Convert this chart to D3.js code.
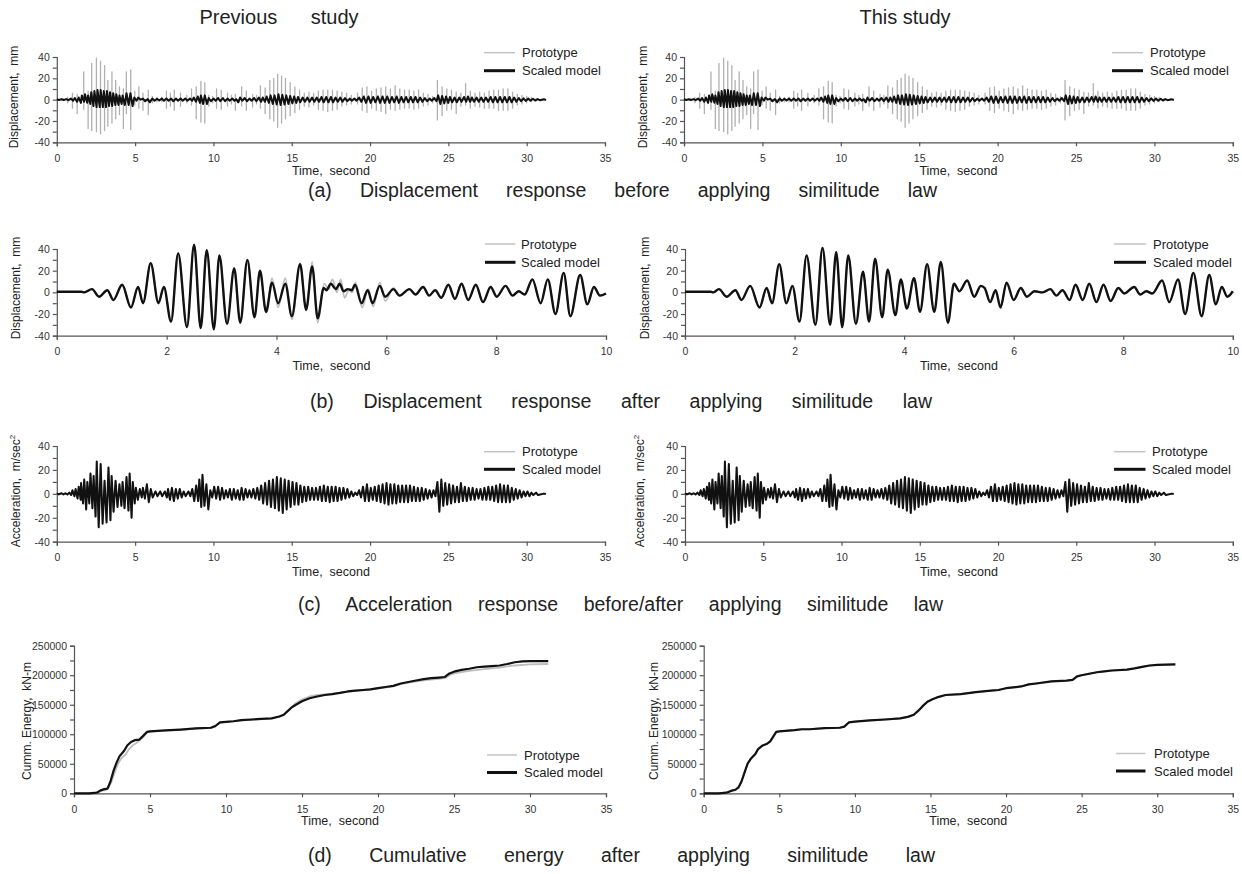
<!DOCTYPE html>
<html><head><meta charset="utf-8">
<script src="https://cdn.jsdelivr.net/npm/d3@7"></script>
<style>
body{margin:0;background:#fff}
svg{display:block}
text{font-family:"Liberation Sans",Arial,sans-serif;fill:#222}
.axis .domain,.axis line{stroke:#555;stroke-width:1.2}
.axis text{font-size:10.5px;fill:#333}
</style>
</head><body>
<svg id="c" width="1242" height="874"></svg>
<script>
// ---------- tick labels / categories ----------
const timeTicksLong = [0,5,10,15,20,25,30,35];
const timeTicksShort = [0,2,4,6,8,10];
const dispTicksMinor = [-40,-30,-20,-10,0,10,20,30,40];
const dispTicksMajor = [-40,-20,0,20,40];
const energyTicksMinor = [0,25000,50000,75000,100000,125000,150000,175000,200000,225000,250000];
const energyTicksMajor = [0,50000,100000,150000,200000,250000];
const seriesNames = ["Prototype","Scaled model"];
const columnTitles = ["Previous study","This study"];
const captions = [
  "(a) Displacement response before applying similitude law",
  "(b) Displacement response after applying similitude law",
  "(c) Acceleration response before/after applying similitude law",
  "(d) Cumulative energy after applying similitude law"
];

// ---------- (a) displacement before similitude: [time, max, min] per cycle ----------
const dispAProto = [
[0.4,1,-1],[0.69,2,-3],[1.0,6,-8],[1.3,5,-13],[1.72,26,-9],[2.0,8,-27],[2.23,34,-29],[2.53,39,-30],[2.79,36,-32],[3.05,32,-29],[3.26,18,-25],[3.52,26,-22],[3.76,18,-18],[4.0,12,-14],[4.25,10,-27],[4.44,26,-13],[4.72,28,-28],[4.98,8,-5],[5.24,12,-8],[5.5,6,-10],[5.84,9,-14],[6.1,3,-3],[6.4,2,-2],[6.7,2,-2],[7.0,8,-8],[7.25,6,-6],[7.5,9,-10],[7.9,6,-6],[8.3,4,-3],[8.6,10,-5],[8.9,12,-18],[9.2,17,-21],[9.45,16,-22],[9.7,4,-6],[9.95,3,-3],[10.2,10,-8],[10.5,9,-9],[10.9,6,-6],[11.15,4,-4],[11.4,5,-10],[11.8,12,-6],[12.1,8,-10],[12.5,5,-7],[12.75,4,-4],[13.0,13,-8],[13.3,11,-13],[13.6,18,-18],[13.85,20,-20],[14.1,24,-26],[14.35,22,-22],[14.6,20,-18],[14.9,16,-15],[15.2,12,-12],[15.5,9,-9],[15.8,6,-6],[16.1,7,-7],[16.4,6,-5],[16.7,8,-9],[17.0,9,-10],[17.3,9,-11],[17.6,9,-10],[17.9,8,-9],[18.2,7,-6],[18.5,6,-5],[18.8,4,-4],[19.2,6,-4],[19.5,11,-10],[19.8,12,-12],[20.1,8,-8],[20.4,10,-10],[20.7,11,-11],[21.0,12,-13],[21.3,10,-9],[21.6,13,-10],[21.9,10,-9],[22.2,9,-8],[22.5,9,-8],[22.8,8,-9],[23.1,9,-8],[23.4,6,-6],[23.7,5,-5],[24.0,3,-3],[24.3,18,-19],[24.6,12,-15],[24.9,10,-10],[25.2,9,-9],[25.5,7,-13],[25.8,6,-6],[26.1,15,-5],[26.4,8,-8],[26.7,6,-6],[27.0,7,-7],[27.3,6,-8],[27.6,8,-8],[27.9,9,-8],[28.2,9,-10],[28.5,10,-10],[28.8,10,-10],[29.1,7,-8],[29.4,5,-5],[29.7,4,-4],[30.0,3,-3],[30.3,2,-2],[30.6,1,-1],[31.0,0.5,-0.5]
];
const dispAModel = [
[0,0.3,-0.3],[0.3,0.3,-0.3],[0.6,0.5,-0.5],[0.9,1,-1],[1.15,1.5,-2],[1.4,2,-3],[1.6,4,-2],[1.8,5,-3],[2.0,4,-4],[2.2,7,-6],[2.4,8,-7],[2.6,9,-7],[2.8,9,-7],[3.0,8,-7],[3.2,8,-6],[3.4,7,-6],[3.6,6,-5],[3.8,5,-5],[4.0,4,-4],[4.2,4,-5],[4.45,6,-5],[4.7,6,-6],[4.95,2,-1],[5.2,2,0],[5.5,1,-1.5],[5.8,0.5,-2.5],[6.1,1,-1],[6.4,0.8,-0.8],[6.7,1,-1],[7.0,1,-1],[7.3,1,-1.5],[7.6,1,-1],[7.9,1,-1],[8.2,1,-1],[8.5,1,-1],[8.75,2,-2],[9.0,3,-3],[9.2,4,-4],[9.45,4,-4],[9.7,1.5,-1.5],[10.0,1,-1],[10.3,1.5,-1.5],[10.6,1.5,-1.5],[10.9,1,-1],[11.2,1,-1],[11.45,0.5,-2.5],[11.7,2,-1],[12.0,1.5,-1.5],[12.3,1,-1],[12.6,1.5,-1.5],[12.9,2,-2],[13.15,2,-2],[13.4,3,-3],[13.65,4,-4],[13.9,4,-4.5],[14.15,5,-5],[14.4,4.5,-4.5],[14.65,4,-4],[14.9,3.5,-3.5],[15.15,3,-3],[15.4,2.5,-2.5],[15.7,2,-2],[16.0,2,-2],[16.3,2,-2],[16.6,2,-2],[16.9,2.5,-2.5],[17.2,2.5,-2.5],[17.5,2.5,-2.5],[17.8,2,-2],[18.1,2,-2],[18.4,1.5,-1.5],[18.7,1,-1],[19.0,1,-1],[19.3,2,-2],[19.6,3,-3],[19.9,3,-3],[20.2,2.5,-2.5],[20.5,3,-3],[20.8,3,-3],[21.1,3,-3],[21.4,2.5,-2.5],[21.7,3,-3],[22.0,2.5,-2.5],[22.3,2.5,-2.5],[22.6,2.5,-2.5],[22.9,2.5,-2.5],[23.2,2,-2],[23.5,1.5,-1.5],[23.8,1,-1],[24.1,1.5,-1.5],[24.35,4,-4],[24.6,3.5,-3.5],[24.85,3,-3],[25.1,2.5,-2.5],[25.4,2,-2.5],[25.7,2,-2],[26.0,2.5,-2],[26.25,3,-2],[26.5,2,-2],[26.8,2,-2],[27.1,2,-2],[27.4,2,-2],[27.7,2.5,-2.5],[28.0,2.5,-2.5],[28.3,2.5,-2.5],[28.6,2.5,-2.5],[28.9,2.5,-2.5],[29.2,2,-2],[29.5,1.5,-1.5],[29.8,1.2,-1.2],[30.1,1,-1],[30.4,0.8,-0.8],[30.7,0.5,-0.5],[31.1,0.3,-0.3]
];

// ---------- (b) displacement after similitude: [time, peak value] ----------
const dispBPrevModel = [
[0,0.5],[0.45,0.5],[0.5,0],[0.64,3],[0.77,-4],[0.92,2],[1.03,-7],[1.19,7],[1.35,-14],[1.48,5],[1.57,-10],[1.71,27],[1.85,-10],[1.95,5],[2.08,-27],[2.21,36],[2.37,-32],[2.5,44],[2.62,-33],[2.73,39],[2.86,-34],[2.96,34],[3.1,-29],[3.23,22],[3.34,-28],[3.47,30],[3.6,-23],[3.7,20],[3.81,-18],[3.92,9],[4.03,-10],[4.16,8],[4.28,-22],[4.43,26],[4.54,-16],[4.65,24],[4.75,-24],[4.86,4],[4.91,2],[4.99,8],[5.08,3],[5.15,8],[5.22,1],[5.3,3],[5.37,2],[5.43,7],[5.55,-10],[5.66,2],[5.75,-10],[5.88,6],[5.98,-4],[6.13,3],[6.24,-3],[6.42,3],[6.53,-2],[6.67,5],[6.78,-3],[6.89,2],[7.0,-5],[7.13,7],[7.25,-6],[7.37,8],[7.49,-7],[7.63,7],[7.76,-9],[7.9,5],[8.01,-4],[8.17,6],[8.3,-3],[8.41,1],[8.52,-2],[8.66,12],[8.81,-10],[8.94,12],[9.08,-20],[9.23,18],[9.35,-22],[9.53,16],[9.66,-11],[9.78,5],[9.89,-3],[10,-1]
];
const dispBPrevProto = [
[0,0.5],[0.45,0.5],[0.5,0],[0.64,3],[0.77,-4],[0.92,2],[1.03,-7],[1.19,7],[1.35,-14],[1.48,5],[1.57,-10],[1.71,27],[1.85,-10],[1.95,5],[2.08,-27],[2.21,36],[2.37,-32],[2.5,44],[2.62,-33],[2.73,39],[2.86,-34],[2.96,34],[3.1,-29],[3.23,22],[3.34,-28],[3.47,30],[3.6,-23],[3.7,20],[3.81,-19],[3.92,13],[4.03,-14],[4.16,13],[4.28,-25],[4.43,27],[4.54,-17],[4.65,28],[4.75,-28],[4.87,8],[4.95,3],[5.02,12],[5.1,0],[5.17,12],[5.24,-5],[5.32,2],[5.38,0],[5.44,9],[5.56,-14],[5.67,3],[5.76,-13],[5.88,9],[5.98,-8],[6.13,4],[6.24,-3],[6.42,3],[6.53,-2],[6.67,5],[6.78,-3],[6.89,2],[7.0,-5],[7.13,7],[7.25,-6],[7.37,8],[7.49,-7],[7.63,7],[7.76,-9],[7.9,5],[8.01,-4],[8.17,6],[8.3,-3],[8.41,1],[8.52,-2],[8.66,12],[8.81,-10],[8.94,12],[9.08,-20],[9.23,18],[9.35,-22],[9.53,16],[9.66,-11],[9.78,5],[9.89,-3],[10,-1]
];
const dispBThis = [
[0,0.5],[0.47,0.5],[0.52,0],[0.62,3],[0.76,-4],[0.92,2],[1.03,-7],[1.19,6],[1.36,-14],[1.49,4],[1.59,-10],[1.72,26],[1.85,-10],[1.96,6],[2.09,-27],[2.22,34],[2.38,-30],[2.51,41],[2.65,-30],[2.76,37],[2.87,-32],[2.98,34],[3.12,-29],[3.25,19],[3.36,-27],[3.47,31],[3.6,-23],[3.7,21],[3.84,-21],[3.94,12],[4.05,-15],[4.18,13],[4.29,-18],[4.42,26],[4.55,-18],[4.67,28],[4.8,-28],[4.91,8],[5.01,1],[5.15,11],[5.28,-4],[5.4,6],[5.47,4],[5.57,-9],[5.67,2],[5.76,-14],[5.87,9],[6.0,-7],[6.13,4],[6.24,-4],[6.38,1],[6.53,0],[6.67,3],[6.78,-3],[6.89,2],[7.02,-7],[7.13,7],[7.26,-7],[7.38,8],[7.51,-9],[7.64,7],[7.77,-8],[7.91,4],[8.02,-1],[8.2,5],[8.31,-2],[8.42,1],[8.53,-1],[8.71,11],[8.84,-9],[9.0,12],[9.13,-20],[9.28,18],[9.43,-22],[9.57,16],[9.69,-11],[9.8,5],[9.9,-4],[10,1]
];

// ---------- (c) acceleration: [time, max, min] per cycle ----------
const accC = [
[0,0.5,-0.5],[0.3,0.5,-0.5],[0.55,0.5,-0.5],[0.8,1,-1],[1.0,3,-2],[1.2,4,-4],[1.4,6,-5],[1.55,9,-8],[1.75,12,-13],[1.95,10,-8],[2.15,17,-12],[2.35,15,-19],[2.55,27,-28],[2.8,25,-25],[3.05,11,-24],[3.3,22,-22],[3.5,15,-15],[3.75,11,-11],[4.0,8,-10],[4.2,10,-12],[4.45,14,-14],[4.65,17,-20],[4.85,10,-8],[5.05,5,-5],[5.3,4,-3],[5.5,5,-4],[5.75,8,-7],[6.0,4,-3],[6.3,2,-2],[6.6,2,-2],[6.9,2,-3],[7.1,4,-5],[7.35,5,-6],[7.6,4,-4],[7.85,4,-3],[8.1,2,-2],[8.4,2,-2],[8.65,4,-6],[8.9,7,-6],[9.1,12,-11],[9.3,16,-10],[9.55,8,-13],[9.8,3,-3],[10.05,6,-4],[10.3,6,-5],[10.55,5,-4],[10.8,3,-3],[11.05,4,-5],[11.3,4,-4],[11.55,3,-5],[11.8,5,-5],[12.05,4,-3],[12.3,3,-3],[12.55,4,-4],[12.8,5,-5],[13.05,7,-8],[13.3,9,-9],[13.55,11,-11],[13.8,12,-12],[14.05,14,-14],[14.3,13,-16],[14.55,12,-13],[14.8,11,-11],[15.05,10,-9],[15.3,9,-9],[15.55,7,-7],[15.8,6,-6],[16.05,6,-5],[16.3,5,-5],[16.55,5,-5],[16.8,6,-6],[17.05,7,-6],[17.3,6,-7],[17.55,6,-6],[17.8,6,-6],[18.05,5,-5],[18.3,5,-4],[18.55,4,-3],[18.8,2,-2],[19.05,1,-1],[19.3,3,-3],[19.55,6,-6],[19.8,8,-6],[20.05,5,-5],[20.3,6,-6],[20.55,7,-7],[20.8,8,-8],[21.05,9,-9],[21.3,8,-8],[21.55,8,-8],[21.8,7,-7],[22.05,7,-7],[22.3,7,-7],[22.55,7,-6],[22.8,6,-6],[23.05,5,-6],[23.3,5,-5],[23.55,4,-4],[23.8,3,-3],[24.05,3,-2],[24.3,10,-15],[24.55,12,-10],[24.8,9,-9],[25.05,8,-8],[25.3,7,-7],[25.55,6,-7],[25.8,9,-6],[26.05,6,-6],[26.3,5,-5],[26.55,5,-5],[26.8,4,-4],[27.05,4,-5],[27.3,5,-5],[27.55,6,-5],[27.8,6,-6],[28.05,7,-7],[28.3,8,-7],[28.55,7,-7],[28.8,7,-7],[29.05,5,-5],[29.3,4,-4],[29.55,3,-3],[29.8,2,-2],[30.05,2,-2],[30.3,1,-1],[30.6,1,-1],[31.1,0.2,-0.2]
];

// ---------- (d) cumulative energy: [time, kN-m] ----------
const energyPrevModel = [
[0,0],[1.0,0],[1.5,1000],[1.75,5000],[2.0,7000],[2.2,8000],[2.4,20000],[2.6,38000],[2.8,52000],[3.0,63000],[3.3,72000],[3.5,81000],[3.75,87000],[4.0,90000],[4.3,91000],[4.5,96000],[4.8,104000],[5.0,105000],[6.0,106500],[7.0,108000],[8.0,110000],[9.0,111000],[9.3,114000],[9.6,120000],[10.0,121000],[10.5,122000],[11.0,124000],[12.0,125500],[13.0,127000],[13.5,130000],[13.8,133000],[14.0,138000],[14.3,145000],[14.6,150000],[15.0,156000],[15.5,161000],[16.0,164000],[16.5,166500],[17.0,168000],[17.5,170000],[18.0,172500],[18.5,174000],[19.0,175000],[19.5,176000],[20.0,178000],[20.5,180000],[21.0,182000],[21.5,186000],[22.0,188500],[22.5,191000],[23.0,193500],[23.5,195000],[24.0,196000],[24.4,197000],[24.7,203000],[25.0,206000],[25.5,209000],[26.0,211000],[26.5,213500],[27.0,214500],[27.5,215500],[28.0,216500],[28.5,219000],[29.0,222000],[29.5,223500],[30.0,224000],[31.2,224000]
];
const energyPrevProto = [
[0,0],[1.0,0],[1.5,1000],[1.8,4000],[2.1,6000],[2.3,10000],[2.5,22000],[2.7,37000],[2.9,50000],[3.1,59000],[3.4,66000],[3.6,74000],[3.9,82000],[4.2,87000],[4.5,94000],[4.8,103000],[5.0,104500],[6.0,106000],[7.0,107500],[8.0,109500],[9.0,110500],[9.3,113000],[9.6,119500],[10.0,121000],[11.0,123500],[12.0,125000],[13.0,127000],[13.5,129500],[13.8,133000],[14.0,137000],[14.3,146000],[14.6,153000],[15.0,159000],[15.5,164000],[16.0,166500],[17.0,169000],[18.0,172000],[19.0,174500],[20.0,177500],[21.0,181000],[21.5,185000],[22.0,187500],[23.0,191500],[24.0,194000],[24.4,195000],[24.7,200000],[25.0,203000],[26.0,207500],[27.0,210500],[28.0,213000],[28.5,215000],[29.0,216500],[30.0,218500],[31.2,219000]
];
const energyThis = [
[0,0],[1.0,0],[1.5,1000],[1.8,4000],[2.1,6000],[2.3,10000],[2.5,20000],[2.7,35000],[2.9,50000],[3.1,58000],[3.4,66000],[3.6,75000],[3.9,81000],[4.2,84000],[4.4,88000],[4.6,96000],[4.8,104000],[5.0,105000],[6.0,107000],[6.5,108500],[7.0,108500],[8.0,110500],[9.0,111000],[9.3,113000],[9.6,120000],[10.0,121500],[11.0,123500],[12.0,125000],[13.0,127000],[13.5,129500],[13.9,133000],[14.2,140000],[14.5,148000],[14.8,155000],[15.1,159000],[15.5,163000],[16.0,166500],[17.0,168000],[18.0,171500],[19.0,174000],[19.5,175000],[20.0,178000],[21.0,181000],[21.5,184500],[22.0,186000],[23.0,189500],[24.0,191000],[24.4,192000],[24.7,198000],[25.0,200000],[25.5,202500],[26.0,205000],[26.5,206500],[27.0,208000],[28.0,209500],[28.5,211500],[29.0,214000],[29.5,216500],[30.0,217500],[31.2,218500]
];

// ---------- drawing ----------
const svg = d3.select('#c');
const GRAY = '#bdbdbd', BLACK = '#111';

function panel(o){
  const x = d3.scaleLinear().domain(o.xDomain).range([o.x0, o.x1]);
  const y = d3.scaleLinear().domain(o.yDomain).range([o.yBot, o.yTop]);
  const g = svg.append('g');
  const major = new Set(o.yMajor);
  g.append('g').attr('class','axis').attr('transform',`translate(${o.x0},0)`)
    .call(d3.axisLeft(y).tickValues(o.yMinor).tickSize(4).tickPadding(3)
      .tickFormat(d => major.has(d) ? String(d) : ''));
  g.append('g').attr('class','axis').attr('transform',`translate(0,${o.yBot})`)
    .call(d3.axisBottom(x).tickValues(o.xTicks).tickSize(4).tickPadding(8).tickFormat(d => String(d)));
  g.append('text').attr('x',(o.x0+o.x1)/2).attr('y',o.yBot+o.tTitle)
    .attr('text-anchor','middle').style('font-size','12.5px').style('white-space','pre')
    .text('Time,  second');
  const yl = g.append('text').attr('transform',`translate(${o.ylx},${o.yly}) rotate(-90)`)
    .attr('text-anchor','middle').attr('dominant-baseline','central')
    .style('font-size','12px').style('white-space','pre');
  if (o.sup) { yl.append('tspan').text(o.yLabel); yl.append('tspan').attr('dy',-4).style('font-size','8px').text(o.sup); }
  else yl.text(o.yLabel);
  const L = o.leg;
  const items = [{n:seriesNames[0],c:'#c4c4c4',w:1.5,dy:0},{n:seriesNames[1],c:BLACK,w:3,dy:L.gap}];
  items.forEach(it=>{
    g.append('line').attr('x1',L.x1).attr('x2',L.x2).attr('y1',L.y+it.dy).attr('y2',L.y+it.dy)
      .attr('stroke',it.c).attr('stroke-width',it.w);
    g.append('text').attr('x',L.tx).attr('y',L.y+it.dy).attr('dominant-baseline','central')
      .style('font-size','13px').text(it.n);
  });
  return {x,y,g};
}

const spikePts = arr => arr.flatMap(([t,u,d]) => [[t,0],[t,u],[t,d],[t,0]]);
const zigPts = (arr,h) => arr.flatMap(([t,u,d]) => [[t,u],[t+h,d]]);
function drawLine(p, pts, color, width, curve){
  const line = d3.line().x(d=>p.x(d[0])).y(d=>p.y(d[1])).curve(curve || d3.curveLinear);
  p.g.append('path').datum(pts).attr('d',line).attr('fill','none')
    .attr('stroke',color).attr('stroke-width',width).attr('stroke-linejoin','round');
}

const cols = [
  {a:{x0:56.8,x1:605,ylx:14,leg:{x1:484,x2:515,tx:522}},
   b:{x0:56.8,x1:606,ylx:16,leg:{x1:485,x2:515.5,tx:521}},
   c:{x0:56.8,x1:605,ylx:16,leg:{x1:484,x2:515,tx:522}},
   d:{x0:74,x1:606,ylx:27,leg:{x1:487,x2:517,tx:524,y:755}}},
  {a:{x0:684,x1:1232.8,ylx:643,leg:{x1:1112,x2:1143,tx:1150}},
   b:{x0:685,x1:1232.8,ylx:645,leg:{x1:1114,x2:1146,tx:1153}},
   c:{x0:685,x1:1232.8,ylx:640,leg:{x1:1114,x2:1145.5,tx:1152}},
   d:{x0:703.7,x1:1232.8,ylx:654,leg:{x1:1116,x2:1145.5,tx:1154,y:753.5}}}
];

cols.forEach((c,i)=>{
  // (a)
  const pa = panel({x0:c.a.x0,x1:c.a.x1,yTop:57,yBot:142.3,xDomain:[0,35],yDomain:[-40,40],
    xTicks:timeTicksLong,yMinor:dispTicksMinor,yMajor:dispTicksMajor,tTitle:33,
    yLabel:'Displacement,  mm',ylx:c.a.ylx,yly:97,leg:{...c.a.leg,y:52.7,gap:18}});
  drawLine(pa, spikePts(dispAProto), '#b0b0b0', 1.3);
  drawLine(pa, zigPts(dispAModel,0.14), BLACK, 2);

  // (b)
  const pb = panel({x0:c.b.x0,x1:c.b.x1,yTop:249,yBot:335.7,xDomain:[0,10],yDomain:[-40,40],
    xTicks:timeTicksShort,yMinor:dispTicksMinor,yMajor:dispTicksMajor,tTitle:34,
    yLabel:'Displacement,  mm',ylx:c.b.ylx,yly:288,leg:{...c.b.leg,y:244,gap:18.3}});
  drawLine(pb, i===0 ? dispBPrevProto : dispBThis, GRAY, 1.8, d3.curveMonotoneX);
  drawLine(pb, i===0 ? dispBPrevModel : dispBThis, BLACK, 2.4, d3.curveMonotoneX);

  // (c)
  const pc = panel({x0:c.c.x0,x1:c.c.x1,yTop:446,yBot:541.7,xDomain:[0,35],yDomain:[-40,40],
    xTicks:timeTicksLong,yMinor:dispTicksMinor,yMajor:dispTicksMajor,tTitle:34,
    yLabel:'Acceleration,  m/sec',sup:'2',ylx:c.c.ylx,yly:491,leg:{...c.c.leg,y:451.7,gap:17.6}});
  drawLine(pc, zigPts(accC,0.125), GRAY, 1.5);
  drawLine(pc, zigPts(accC,0.125), BLACK, 2);

  // (d)
  const pd = panel({x0:c.d.x0,x1:c.d.x1,yTop:645.7,yBot:793.3,xDomain:[0,35],yDomain:[0,250000],
    xTicks:timeTicksLong,yMinor:energyTicksMinor,yMajor:energyTicksMajor,tTitle:32,
    yLabel:'Cumm. Energy,  kN-m',ylx:c.d.ylx,yly:721,leg:{...c.d.leg,gap:17.5}});
  drawLine(pd, i===0 ? energyPrevProto : energyThis, GRAY, 1.8);
  drawLine(pd, i===0 ? energyPrevModel : energyThis, BLACK, 2.2);
});

// titles & captions with fitted word spacing
function fitText(sel, target){
  const w = sel.node().getComputedTextLength();
  const n = (sel.text().match(/ /g)||[]).length;
  if (n) sel.style('word-spacing', Math.max(0,(target - w)/n) + 'px');
}
const titleSpecs = [{cx:279,w:159},{cx:905,w:90}];
columnTitles.forEach((t,i)=>{
  const s = svg.append('text').attr('x',titleSpecs[i].cx).attr('y',24).attr('text-anchor','middle')
    .style('font-size','20px').text(t);
  fitText(s, titleSpecs[i].w);
});
const capSpecs = [{cx:622.5,y:196.5,w:629},{cx:621,y:408,w:622},{cx:620.5,y:611,w:645},{cx:621.5,y:862,w:627}];
captions.forEach((t,i)=>{
  const s = svg.append('text').attr('x',capSpecs[i].cx).attr('y',capSpecs[i].y).attr('text-anchor','middle')
    .style('font-size','19.5px').text(t);
  fitText(s, capSpecs[i].w);
});
</script>
</body></html>
